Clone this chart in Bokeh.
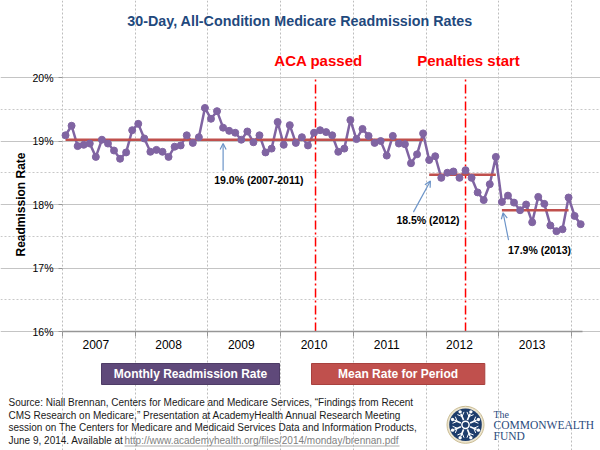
import numpy as np
from bokeh.plotting import figure
from bokeh.models import Range1d, FixedTicker, Arrow, OpenHead
from bokeh.core.properties import value
from bokeh.embed import file_html
from bokeh.resources import INLINE

# ---------------- data ----------------
years = [2007, 2008, 2009, 2010, 2011, 2012, 2013]
# monthly 30-day all-condition readmission rate (%), Jan 2007 .. Feb 2014
rates = [
    19.09, 19.24, 18.92, 18.94, 18.96, 18.75, 19.02, 18.96, 18.85, 18.72, 18.82, 19.17,
    19.27, 19.04, 18.83, 18.86, 18.83, 18.75, 18.91, 18.93, 19.09, 18.97, 19.06, 19.52,
    19.35, 19.47, 19.21, 19.16, 19.13, 19.02, 19.15, 18.98, 19.09, 18.82, 18.88, 19.30,
    18.94, 19.25, 18.97, 19.06, 18.93, 19.13, 19.17, 19.14, 19.09, 18.83, 18.88, 19.33,
    19.03, 19.19, 19.08, 18.97, 19.00, 18.77, 19.08, 18.96, 18.95, 18.65, 18.79, 19.12,
    18.70, 18.76, 18.42, 18.50, 18.52, 18.42, 18.54, 18.42, 18.19, 18.07, 18.32, 18.75,
    18.04, 18.14, 18.03, 17.91, 18.00, 17.72, 18.12, 18.01, 17.67, 17.58, 17.61, 18.11,
    17.82, 17.69,
]
months = list(range(len(rates)))
period_start = [0, 60, 72]
period_end = [59, 71, 83]
period_means = [19.02, 18.47, 17.91]
period_labels = ["19.0% (2007-2011)", "18.5% (2012)", "17.9% (2013)"]
events = [41.25, 66.0]
event_labels = ["ACA passed", "Penalties start"]
y_ticks = [16, 17, 18, 19, 20]
y_minor = [16.5, 17.5, 18.5, 19.5]
title_text = "30-Day, All-Condition Medicare Readmission Rates"
legend_texts = ["Monthly Readmission Rate", "Mean Rate for Period"]
source_lines = [
    "Source: Niall Brennan, Centers for Medicare and Medicare Services, \u201cFindings from Recent",
    "CMS Research on Medicare,\u201d Presentation at AcademyHealth Annual Research Meeting",
    "session on The Centers for Medicare and Medicaid Services Data and Information Products,",
    "June 9, 2014. Available at ",
]
source_link = "http://www.academyhealth.org/files/2014/monday/brennan.pdf"
logo_lines = ["The", "COMMONWEALTH", "FUND"]

FONT = "Liberation Sans"
PURPLE = "#8064A2"
RED_MEAN = "#C0504D"

W, H = 600, 450
FL, FR, FT, FB = 62, 582, 77, 331          # data area in page pixels
X0, X1 = -0.5, 85.3
Y0, Y1 = 16, 20
boundaries = [X0 + 12 * k for k in range(8)]


def px2x(px):
    return X0 + (np.asarray(px, dtype=float) - FL) * (X1 - X0) / (FR - FL)


def py2y(py):
    return Y0 + (FB - np.asarray(py, dtype=float)) * (Y1 - Y0) / (FB - FT)


# frame covers the whole canvas; axes are pinned to the data area
p = figure(width=W, height=H,
           x_range=Range1d(float(px2x(0)), float(px2x(W))),
           y_range=Range1d(float(py2y(H)), float(py2y(0))),
           title=None, min_border=0, output_backend="svg", toolbar_location=None)
p.outline_line_color = None

# x axis
p.xaxis.fixed_location = Y0
p.xaxis.bounds = (X0, X1)
p.xaxis.ticker = FixedTicker(ticks=[12 * k + 5 for k in range(len(years))],
                             minor_ticks=boundaries)
p.xaxis.major_label_overrides = {12 * k + 5: str(y) for k, y in enumerate(years)}
p.xaxis.major_tick_line_color = None
p.xaxis.major_tick_out = 0
p.xaxis.major_tick_in = 0
p.xaxis.minor_tick_out = 5
p.xaxis.minor_tick_in = 0
p.xaxis.minor_tick_line_color = "#969696"
p.xaxis.axis_line_color = "#969696"
p.xaxis.axis_line_width = 1.5
p.xaxis.major_label_standoff = 3
p.xaxis.major_label_text_font = FONT
p.xaxis.major_label_text_font_size = "12px"
p.xaxis.major_label_text_color = "#000000"

# y axis
p.yaxis.fixed_location = X0
p.yaxis.bounds = (Y0, Y1)
p.yaxis.ticker = FixedTicker(ticks=y_ticks, minor_ticks=y_minor)
p.yaxis.major_label_overrides = {t: f"{t}%" for t in y_ticks}
p.yaxis.axis_line_color = None
p.yaxis.major_tick_out = 4
p.yaxis.major_tick_in = 0
p.yaxis.major_tick_line_color = "#969696"
p.yaxis.minor_tick_line_color = None
p.yaxis.major_label_standoff = 5
p.yaxis.major_label_text_font = FONT
p.yaxis.major_label_text_font_size = "10.5px"
p.yaxis.major_label_text_color = "#000000"
p.yaxis.axis_label = "Readmission Rate"
p.yaxis.axis_label_text_font = FONT
p.yaxis.axis_label_text_font_size = "12px"
p.yaxis.axis_label_text_font_style = "bold"
p.yaxis.axis_label_text_color = "#000000"
p.yaxis.axis_label_standoff = 1

# grids
p.xgrid.ticker = FixedTicker(ticks=boundaries)
p.xgrid.bounds = (Y0, Y1)
p.xgrid.grid_line_color = "#bdbdbd"
p.xgrid.grid_line_dash = "2 2"
p.ygrid.bounds = (X0, X1)
p.ygrid.grid_line_color = "#c4c4c4"
p.ygrid.grid_line_width = 1.2
p.ygrid.minor_grid_line_color = "#c8c8c8"
p.ygrid.minor_grid_line_dash = "2 2"

# event lines
p.segment(x0=events, y0=[Y0] * len(events), x1=events, y1=[Y1] * len(events),
          line_color="#FF0000", line_width=1.5, line_dash="9 3 2 3")

# data
p.line(months, rates, line_color=PURPLE, line_width=2.5)
p.segment(x0=period_start, y0=period_means, x1=period_end, y1=period_means,
          line_color=RED_MEAN, line_width=2.5)
p.scatter(months, rates, size=7, fill_color=PURPLE, line_color=PURPLE)

# period annotations
ARROW_C = "#6C94C8"
arrows = [((26.0, 18.53), (26.0, 18.96)),
          ((57.4, 17.88), (60.2, 18.37)),
          ((73.1, 17.44), (72.2, 17.87))]
for (xs, ys), (xe, ye) in arrows:
    p.add_layout(Arrow(end=OpenHead(size=6, line_color=ARROW_C, line_width=1.2),
                       x_start=xs, y_start=ys, x_end=xe, y_end=ye,
                       line_color=ARROW_C, line_width=1.2))
p.text(x=[31.9, 59.8, 78.2], y=[18.39, 17.76, 17.29], text=period_labels,
       text_align="center", text_baseline="middle", text_font=value(FONT),
       text_font_size=value("10.5px"), text_font_style="bold", text_color="#000000")


def txt(px, py, texts, size, color="#000000", style="normal", align="left",
        font=FONT, xs=None, x_offset=0):
    x = list(px2x(px)) if xs is None else list(xs)
    p.text(x=x, y=list(py2y(py)), text=texts, text_align=align, text_baseline="middle",
           text_font=value(font), text_font_size=value(size), text_font_style=style,
           text_color=color, x_offset=x_offset)


# title and event labels
txt([299.5], [20], [title_text], "14.3px", "#1F497D", "bold", "center")
txt(None, [60, 60], event_labels, "15px", "#FF0000", "bold", "center",
    xs=events, x_offset=3)

# legend boxes
p.quad(left=list(px2x([101, 311])), right=list(px2x([279, 484.3])),
       top=list(py2y([363, 363])), bottom=list(py2y([384, 384])),
       fill_color=["#5F497A", "#C0504D"], line_color=["#4e3c66", "#a8413e"], line_width=1)
txt([190, 397.6], [373.8, 373.8], legend_texts, "12px", "#FFFFFF", "bold", "center")

# source text
line_y = [402, 414.7, 427.3, 440]
txt([8] * 4, line_y, source_lines, "10px", "#1a1a1a")
txt([124], [line_y[3]], [source_link], "10px", "#808080")
p.segment(x0=list(px2x([124])), y0=list(py2y([445.5])), x1=list(px2x([399])),
          y1=list(py2y([445.5])), line_color="#9a9a9a", line_width=0.8)

# logo
cx, cy = 465, 424.3
ang = np.deg2rad(np.arange(8) * 45 + 22.5)
p.scatter(x=list(px2x([cx])), y=list(py2y([cy])), size=37, fill_color="#ece5cf",
          line_color="#cbbd94", line_width=1)
p.scatter(x=list(px2x([cx])), y=list(py2y([cy])), size=32.6, fill_color="#1d3c6b",
          line_color=None)
p.segment(x0=list(px2x(cx + 5 * np.cos(ang))), y0=list(py2y(cy + 5 * np.sin(ang))),
          x1=list(px2x(cx + 12 * np.cos(ang))), y1=list(py2y(cy + 12 * np.sin(ang))),
          line_color="white", line_width=1.6)
for da in (-0.28, 0.28):
    p.segment(x0=list(px2x(cx + 9 * np.cos(ang))), y0=list(py2y(cy + 9 * np.sin(ang))),
              x1=list(px2x(cx + 13 * np.cos(ang + da))),
              y1=list(py2y(cy + 13 * np.sin(ang + da))),
              line_color="white", line_width=1.0)
p.scatter(x=list(px2x(cx + 14 * np.cos(ang))), y=list(py2y(cy + 14 * np.sin(ang))),
          size=3.4, fill_color="white", line_color=None)
p.scatter(x=list(px2x([cx])), y=list(py2y([cy])), size=7.2, fill_color="#1d3c6b",
          line_color="white", line_width=1.5)
txt([493], [413.5], [logo_lines[0]], "10px", "#2a4a7c", font="Liberation Serif")
txt([493, 493], [424.5, 435.5], logo_lines[1:], "11.5px", "#2a4a7c", font="Liberation Serif")

open("out.html", "w").write(file_html(p, INLINE))
